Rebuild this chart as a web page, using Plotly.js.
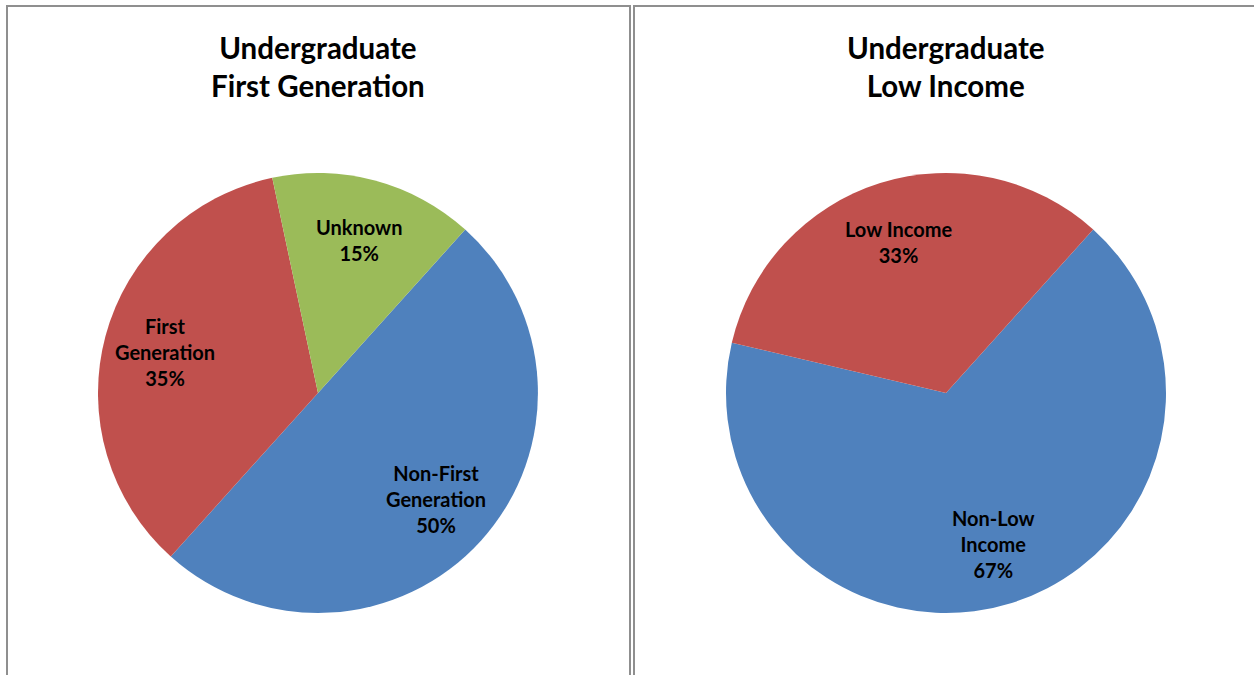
<!DOCTYPE html>
<html>
<head>
<meta charset="utf-8">
<script src="https://cdn.plot.ly/plotly-3.0.1.min.js"></script>
<style>
html,body{margin:0;padding:0;background:#fff;}
#chart{width:1254px;height:675px;}
</style>
</head>
<body>
<div id="chart"></div>
<script>
// Data
const firstGenCategories = ["Non-First Generation", "First Generation", "Unknown"];
const firstGenLabels = ["Non-First<br>Generation", "First<br>Generation", "Unknown"];
const firstGenValues = [50, 35, 15];
const firstGenColors = ["#4F81BD", "#C0504D", "#9BBB59"];

const lowIncomeCategories = ["Non-Low Income", "Low Income"];
const lowIncomeLabels = ["Non-Low<br>Income", "Low Income"];
const lowIncomeValues = [67, 33];
const lowIncomeColors = ["#4F81BD", "#C0504D"];

const titles = ["Undergraduate<br>First Generation", "Undergraduate<br>Low Income"];

const W = 1254, H = 675;
const FONT = "Lato, Open Sans, Liberation Sans, Arial, sans-serif";
const px = v => v / W;
const py = v => 1 - v / H;
const ROT = 42, R = 220, CY = 393, LABEL_FRAC = 0.72;

function pieTrace(labels, values, colors, cx) {
  return {
    type: "pie",
    labels: labels,
    values: values,
    textinfo: "none",
    marker: {colors: colors, line: {width: 0}},
    sort: false,
    direction: "clockwise",
    rotation: ROT,
    hoverinfo: "label+percent",
    showlegend: false,
    domain: {x: [px(cx - R), px(cx + R)], y: [py(CY + R), py(CY - R)]}
  };
}

// Slice labels derived from the values (mid-angle of each slice)
function sliceLabels(text, values, cx) {
  const total = values.reduce((a, b) => a + b, 0);
  let cum = 0;
  return values.map((v, i) => {
    const mid = ROT + (cum + v / 2) / total * 360; // clockwise from 12 o'clock
    cum += v;
    const a = mid * Math.PI / 180;
    const x = cx + Math.sin(a) * R * LABEL_FRAC;
    const y = CY - Math.cos(a) * R * LABEL_FRAC;
    return {
      text: "<b>" + text[i] + "<br>" + Math.round(v / total * 100) + "%</b>",
      xref: "paper", yref: "paper", x: px(x), y: py(y),
      xanchor: "center", yanchor: "middle", showarrow: false,
      font: {family: FONT, size: 20, color: "#000"}
    };
  });
}

const data = [
  pieTrace(firstGenCategories, firstGenValues, firstGenColors, 318),
  pieTrace(lowIncomeCategories, lowIncomeValues, lowIncomeColors, 946)
];

const layout = {
  width: W, height: H,
  margin: {l: 0, r: 0, t: 0, b: 0},
  paper_bgcolor: "#fff",
  showlegend: false,
  shapes: [
    {type: "rect", xref: "paper", yref: "paper", x0: px(7), x1: px(630), y0: py(690), y1: py(6),
     line: {color: "#8f8f8f", width: 2}, fillcolor: "rgba(0,0,0,0)"},
    {type: "rect", xref: "paper", yref: "paper", x0: px(634), x1: px(1270), y0: py(690), y1: py(6),
     line: {color: "#8f8f8f", width: 2}, fillcolor: "rgba(0,0,0,0)"}
  ],
  annotations: [
    {text: "<b>" + titles[0] + "</b>", xref: "paper", yref: "paper", x: px(318), y: py(66.5),
     xanchor: "center", yanchor: "middle", showarrow: false,
     font: {family: FONT, size: 29.5, color: "#000"}},
    {text: "<b>" + titles[1] + "</b>", xref: "paper", yref: "paper", x: px(946), y: py(66.5),
     xanchor: "center", yanchor: "middle", showarrow: false,
     font: {family: FONT, size: 29.5, color: "#000"}}
  ].concat(sliceLabels(firstGenLabels, firstGenValues, 318))
   .concat(sliceLabels(lowIncomeLabels, lowIncomeValues, 946))
};

Plotly.newPlot("chart", data, layout, {displayModeBar: false, staticPlot: true});
</script>
</body>
</html>
